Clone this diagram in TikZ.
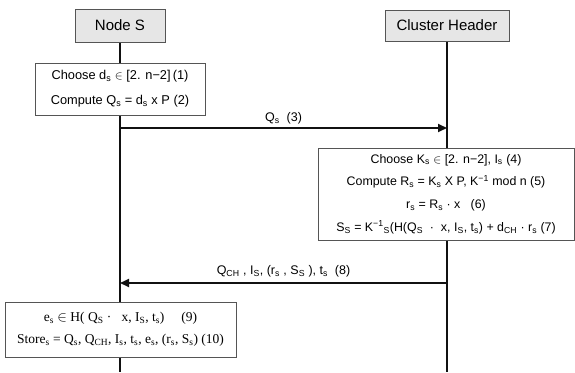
\documentclass[tikz,border=0pt]{standalone}
\usepackage{fontspec}
\setmainfont{Liberation Sans}
\newfontfamily\serifbox{Liberation Serif}
\usepackage{tikz}
\usetikzlibrary{positioning,arrows.meta,backgrounds}
\definecolor{ink}{HTML}{111111}
\definecolor{frame}{HTML}{555555}
\definecolor{headbg}{HTML}{E6E6E6}
\tikzset{
  actor/.style={rectangle,draw=frame,fill=headbg,minimum width=90pt,
    minimum height=33pt,font=\fontsize{15}{18}\selectfont},
  stepbox/.style={rectangle,draw=frame,fill=white,align=center,inner sep=2pt},
  life/.style={line width=2pt,draw=ink},
  msg/.style={-{Triangle[length=9pt,width=8pt]},line width=2pt,draw=ink},
  lbl/.style={font=\fontsize{12.5}{14}\selectfont,inner sep=3pt},
}
\newcommand{\sub}[1]{\textsubscript{#1}}
\newcommand{\supr}[1]{\textsuperscript{#1}}

\begin{document}
\begin{tikzpicture}[x=1pt,y=-1pt]
  \useasboundingbox (0,0) rectangle (575,372);
  \node[actor] (nodeS) at (120,25.5) {Node S};
  \node[actor,minimum width=124pt,minimum height=31pt] (ch) at (447,25.5) {Cluster Header};
  \node[stepbox,minimum width=170pt,minimum height=52pt,font=\fontsize{12.8}{25}\selectfont]
    (gen) at (120,89) {Choose d\sub{s} $\in$ [2. n−2]\,(1)\\Compute Q\sub{s} = d\sub{s} x P (2)};
  \node[stepbox,minimum width=256pt,minimum height=92pt,font=\fontsize{12.4}{22.7}\selectfont]
    (sign) at (446,194) {Choose K\sub{s} $\in$ [2. n−2], I\sub{s} (4)\\
    Compute R\sub{s} = K\sub{s} X P, K\supr{−1} mod n (5)\\
    r\sub{s} = R\sub{s} · x \ \ (6)\\
    S\sub{S} = K\supr{−1}\sub{S}(H(Q\sub{S} \ · \ x, I\sub{S}, t\sub{s}) + d\sub{CH} · r\sub{s} (7)};
  \node[stepbox,minimum width=231pt,minimum height=55pt,font=\serifbox\fontsize{13.5}{22}\selectfont]
    (store) at (120.5,329.5) {e\sub{s} $\in$ H( Q\sub{S} · \ \ x, I\sub{S}, t\sub{s}) \quad (9)\\
    Store\sub{s} = Q\sub{s}, Q\sub{CH}, I\sub{s}, t\sub{s}, e\sub{s}, (r\sub{s}, S\sub{s}) (10)};
  % lifelines
  \coordinate (sEnd) at (nodeS |- 0,372);
  \coordinate (chEnd) at (ch |- 0,372);
  \begin{scope}[on background layer]
    \draw[life] (nodeS) -- (sEnd);
    \draw[life] (ch) -- (chEnd);
  \end{scope}
  % messages
  \coordinate (qS) at (nodeS |- 0,128);
  \coordinate (qCH) at (ch |- 0,128);
  \draw[msg] (qS) -- (qCH) node[lbl,midway,above] {Q\sub{s} \ (3)};
  \coordinate (rCH) at (ch |- 0,283);
  \coordinate (rS) at (nodeS |- 0,283);
  \draw[msg] (rCH) -- (rS) node[lbl,midway,above=2pt] {Q\sub{CH} , I\sub{S}, (r\sub{s} , S\sub{S} ), t\sub{s} \ (8)};
\end{tikzpicture}
\end{document}
